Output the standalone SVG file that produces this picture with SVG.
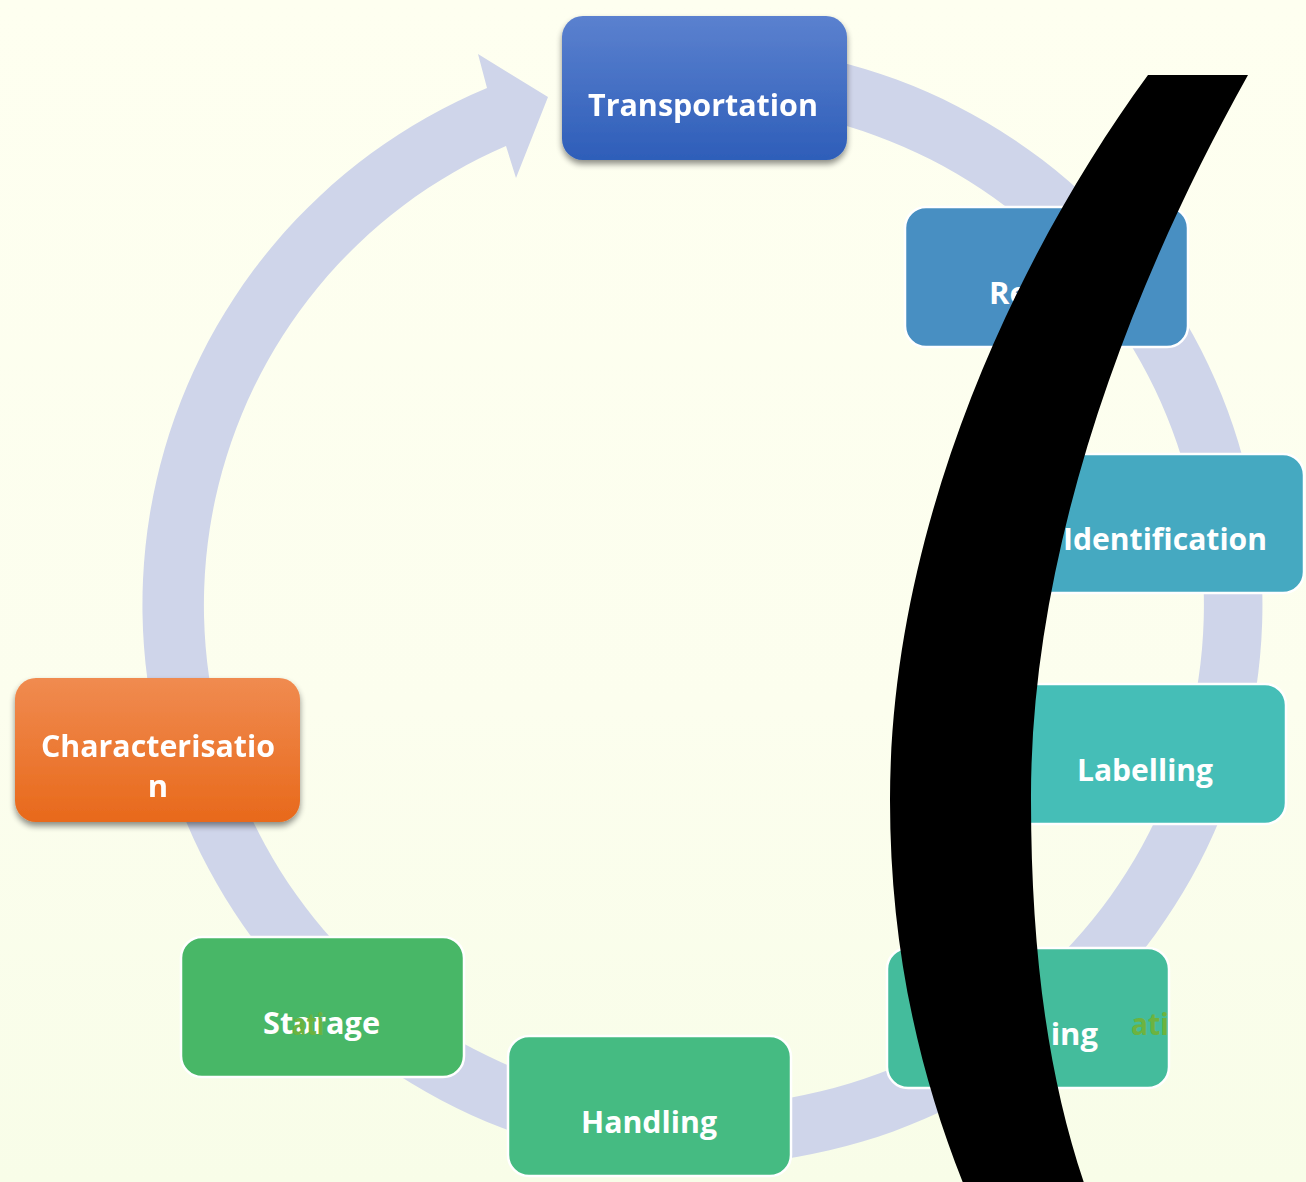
<svg xmlns="http://www.w3.org/2000/svg" width="1306" height="1182" viewBox="0 0 1306 1182">
<defs>
<linearGradient id="bg" x1="0" y1="0" x2="0" y2="1">
<stop offset="0" stop-color="#FEFFF0"/>
<stop offset="0.6" stop-color="#FCFEEE"/>
<stop offset="1" stop-color="#F8FDE8"/>
</linearGradient>
<linearGradient id="gBlue" x1="0" y1="0" x2="0" y2="1">
<stop offset="0" stop-color="#5B81CF"/>
<stop offset="1" stop-color="#2E5EB9"/>
</linearGradient>
<linearGradient id="gOrange" x1="0" y1="0" x2="0" y2="1">
<stop offset="0" stop-color="#F08B50"/>
<stop offset="1" stop-color="#E8691B"/>
</linearGradient>
<filter id="shadow" x="-10%" y="-10%" width="120%" height="130%">
<feGaussianBlur in="SourceAlpha" stdDeviation="3"/>
<feOffset dx="0" dy="4" result="b"/>
<feComponentTransfer><feFuncA type="linear" slope="0.45"/></feComponentTransfer>
<feMerge><feMergeNode/><feMergeNode in="SourceGraphic"/></feMerge>
</filter>
</defs>
<style>
.box{stroke:#FFFFFF;stroke-width:2.5}
.lbl{font-family:"Open Sans","Noto Sans","Liberation Sans",sans-serif;font-weight:bold;font-size:31px;fill:#FFFFFF}
.ghost{font-family:"Open Sans","Noto Sans","Liberation Sans",sans-serif;font-weight:bold;font-size:30px;fill:#6DB33F}
</style>
<rect x="0" y="0" width="1306" height="1182" fill="url(#bg)"/>
<g id="connectors">
<path d="M 800.2 53.5 A 560 560 0 1 1 487 88 L 478 54 L 548 97 L 516 178 L 506 146 A 500 500 0 1 0 789.8 112.6 Z" fill="#CFD5EA"/>
</g>
<g id="node-transportation" filter="url(#shadow)">
<rect x="562" y="16" width="285" height="144" rx="21" fill="url(#gBlue)"/>
<text class="lbl" x="703" y="116" text-anchor="middle" textLength="230" lengthAdjust="spacingAndGlyphs">Transportation</text>
</g>
<g id="node-re">
<rect class="box" x="905" y="207" width="283" height="140" rx="21" fill="#488FC2"/>
<text class="lbl" x="989" y="304">Re</text>
</g>
<g id="node-identification">
<rect class="box" x="1021" y="454" width="283" height="139" rx="21" fill="#45A9C1"/>
<text class="lbl" x="1165" y="550" text-anchor="middle" textLength="204" lengthAdjust="spacingAndGlyphs">Identification</text>
</g>
<g id="node-labelling">
<rect class="box" x="1003" y="684" width="283" height="140" rx="21" fill="#45BEB7"/>
<text class="lbl" x="1145" y="781" text-anchor="middle" textLength="136" lengthAdjust="spacingAndGlyphs">Labelling</text>
</g>
<g id="node-ing">
<rect class="box" x="887" y="948" width="282" height="140" rx="21" fill="#44BC9C"/>
<text class="lbl" x="1098" y="1045" text-anchor="end">ing</text>
<text class="ghost" x="1131" y="1035" textLength="38" lengthAdjust="spacingAndGlyphs">ati</text>
</g>
<g id="node-handling">
<rect class="box" x="508" y="1036" width="283" height="140" rx="21" fill="#45BB82"/>
<text class="lbl" x="649" y="1133" text-anchor="middle" textLength="136" lengthAdjust="spacingAndGlyphs">Handling</text>
</g>
<g id="node-storage">
<rect class="box" x="181" y="937" width="283" height="140" rx="21" fill="#48B767"/>
<text class="lbl" x="321.5" y="1034" text-anchor="middle" textLength="117" lengthAdjust="spacingAndGlyphs">Storage</text>
<text class="ghost" x="292" y="1035" textLength="32" lengthAdjust="spacingAndGlyphs">ati</text>
</g>
<g id="node-characterisation" filter="url(#shadow)">
<rect x="15" y="678" width="285" height="144" rx="21" fill="url(#gOrange)"/>
<text class="lbl" x="158" y="757" text-anchor="middle" textLength="234" lengthAdjust="spacingAndGlyphs">Characterisatio</text>
<text class="lbl" x="158" y="797" text-anchor="middle">n</text>
</g>
<g id="overlay">
<path d="M 1148 75 L 1248 75 C 1122 300 1030 560 1031 800 C 1031 960 1050 1090 1090 1200 L 970 1200 C 920 1080 890 950 890 800 C 890 520 1020 250 1148 75 Z" fill="#000000"/>
</g>
</svg>
